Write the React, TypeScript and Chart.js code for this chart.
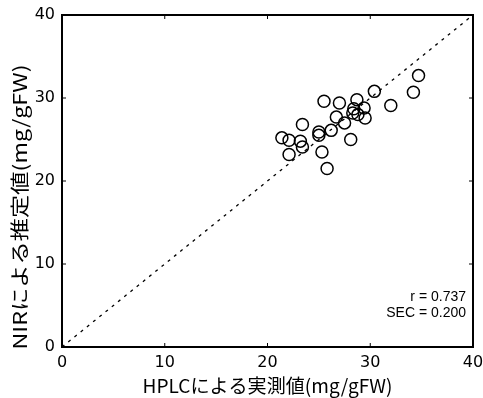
import React, { useEffect, useRef } from "react";
import { Chart, registerables } from "chart.js";

Chart.register(...registerables);

// HPLC measured values (x) and NIR estimated values (y), mg/gFW
const hplcValues = [34.7, 34.2, 30.4, 32.0, 25.5, 27.0, 28.7, 28.4, 29.4, 26.7, 28.3, 28.8, 29.5, 27.5, 23.4, 26.2, 25.0, 25.0, 21.4, 22.1, 23.2, 23.4, 28.1, 22.1, 25.3, 25.8];
const nirValues = [32.7, 30.7, 30.8, 29.1, 29.6, 29.4, 29.8, 28.7, 28.8, 27.7, 28.2, 28.0, 27.6, 27.0, 26.8, 26.1, 25.9, 25.5, 25.2, 24.9, 24.8, 24.1, 25.0, 23.2, 23.5, 21.5];

const refLineX = [0, 40];
const refLineY = [0, 40];

const axisMin = 0;
const axisMax = 40;
const tickStep = 10;

const xTitle = "HPLCによる実測値(mg/gFW)";
const yTitle = "NIRによる推定値(mg/gFW)";
const statLines = ["r = 0.737", "SEC = 0.200"];

const framePlugin = {
  id: "frame",
  afterDraw(chart: any) {
    const { ctx, chartArea: a, scales } = chart;
    const xs = scales.x;
    const ys = scales.y;
    ctx.save();
    ctx.strokeStyle = "#000";
    ctx.lineWidth = 2;
    ctx.strokeRect(a.left, a.top, a.right - a.left, a.bottom - a.top);
    // inward ticks
    ctx.lineWidth = 1;
    const tl = 4;
    for (let v = axisMin + tickStep; v < axisMax; v += tickStep) {
      const px = xs.getPixelForValue(v);
      const py = ys.getPixelForValue(v);
      ctx.beginPath();
      ctx.moveTo(px, a.bottom);
      ctx.lineTo(px, a.bottom - tl);
      ctx.moveTo(px, a.top);
      ctx.lineTo(px, a.top + tl);
      ctx.moveTo(a.left, py);
      ctx.lineTo(a.left + tl, py);
      ctx.moveTo(a.right, py);
      ctx.lineTo(a.right - tl, py);
      ctx.stroke();
    }
    // axis titles, fitted to width
    ctx.fillStyle = "#000";
    ctx.textAlign = "center";
    ctx.textBaseline = "middle";
    ctx.font = '19px "Noto Sans CJK JP", sans-serif';
    let w = ctx.measureText(xTitle).width;
    ctx.save();
    ctx.translate((a.left + a.right) / 2, 386);
    ctx.scale(250 / w, 1);
    ctx.fillText(xTitle, 0, 0);
    ctx.restore();

    ctx.font = '19px "Noto Sans CJK JP", sans-serif';
    w = ctx.measureText(yTitle).width;
    ctx.save();
    ctx.translate(20, 207);
    ctx.rotate(-Math.PI / 2);
    ctx.scale(285 / w, 1);
    ctx.fillText(yTitle, 0, 0);
    ctx.restore();

    // stats
    ctx.font = '14px "Liberation Sans", Arial, sans-serif';
    ctx.textAlign = "right";
    ctx.fillText(statLines[0], a.right - 7, 297);
    ctx.fillText(statLines[1], a.right - 7, 313);
    ctx.restore();
  },
};

export default function App() {
  const ref = useRef<HTMLCanvasElement | null>(null);
  useEffect(() => {
    if (!ref.current) return;
    const points = hplcValues.map((x, i) => ({ x, y: nirValues[i] }));
    const line = refLineX.map((x, i) => ({ x, y: refLineY[i] }));
    const tickFont = { family: '"DejaVu Sans", sans-serif', size: 16 };
    const chart = new Chart(ref.current, {
      type: "scatter",
      data: {
        datasets: [
          {
            type: "line",
            data: line,
            borderColor: "#000",
            borderWidth: 1.3,
            borderDash: [3, 5],
            pointRadius: 0,
            fill: false,
          } as any,
          {
            data: points,
            pointRadius: 6,
            pointBorderWidth: 1.5,
            borderColor: "#000",
            backgroundColor: "rgba(0,0,0,0)",
          },
        ],
      },
      options: {
        responsive: false,
        animation: false,
        layout: { padding: { top: 15, right: 0, left: 0, bottom: 0 } },
        plugins: { legend: { display: false }, tooltip: { enabled: false } },
        scales: {
          x: {
            type: "linear",
            min: axisMin,
            max: axisMax,
            ticks: { stepSize: tickStep, color: "#000", font: tickFont, padding: 6 },
            grid: { display: false, drawTicks: false },
            border: { display: false },
            afterFit: (s: any) => {
              s.height = 51;
              s.paddingRight = 10;
              s.paddingLeft = 0;
            },
          },
          y: {
            type: "linear",
            min: axisMin,
            max: axisMax,
            ticks: { stepSize: tickStep, color: "#000", font: tickFont, padding: 7 },
            grid: { display: false, drawTicks: false },
            border: { display: false },
            afterFit: (s: any) => {
              s.width = 62;
              s.paddingTop = 0;
              s.paddingBottom = 0;
            },
          },
        },
      },
      plugins: [framePlugin],
    });
    return () => chart.destroy();
  }, []);
  return (
    <div style={{ position: "absolute", left: 0, top: 0, width: 483, height: 398, background: "#fff" }}>
      <canvas ref={ref} width={483} height={398} />
    </div>
  );
}
